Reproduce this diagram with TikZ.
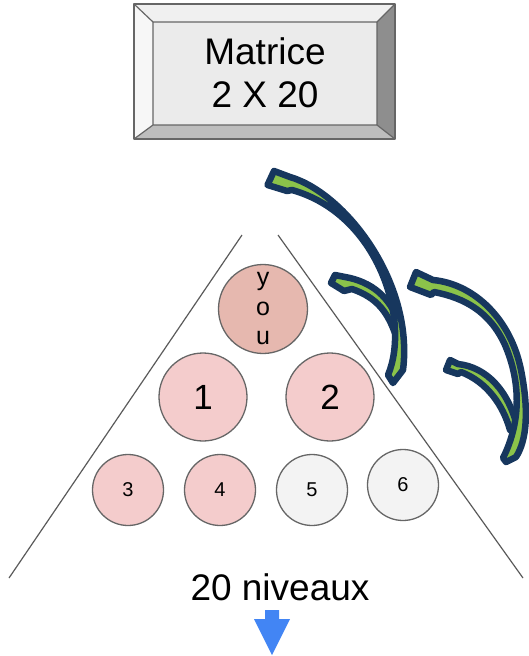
\documentclass[tikz,border=0pt]{standalone}
\usepackage{fontspec}
\setmainfont{Liberation Sans}
\definecolor{navy}{HTML}{17375E}
\definecolor{limeg}{HTML}{8BC34A}
\definecolor{youfill}{HTML}{E6B8AF}
\definecolor{pinkfill}{HTML}{F4CCCC}
\definecolor{greyfill}{HTML}{F3F3F3}
\definecolor{cgray}{HTML}{666666}
\definecolor{lgray}{HTML}{5A5A5A}
\definecolor{bluearrow}{HTML}{4285F4}
\definecolor{bevtop}{HTML}{F0F0F0}
\definecolor{bevleft}{HTML}{F7F7F7}
\definecolor{bevright}{HTML}{8E8E8E}
\definecolor{bevbot}{HTML}{BDBDBD}
\definecolor{bevmid}{HTML}{EBEBEB}
\tikzset{
  circ/.style={circle, draw=cgray, line width=1.3pt, inner sep=0pt},
  bigc/.style={circ, fill=pinkfill, minimum size=88pt, font=\fontsize{35}{40}\selectfont},
  smallc/.style={circ, minimum size=71pt, font=\fontsize{20}{24}\selectfont},
  curv/.style={fill=limeg, draw=navy, line width=6.5pt, line join=round},
  side/.style={draw=lgray, line width=1.2pt},
}
\begin{document}
\begin{tikzpicture}[x=1pt,y=-1pt]
\useasboundingbox (0,0) rectangle (529,656);
% bevel box
\coordinate (o1) at (134,4); \coordinate (o2) at (395,4);
\coordinate (o3) at (395,139); \coordinate (o4) at (134,139);
\coordinate (i1) at (153,22); \coordinate (i2) at (377,22);
\coordinate (i3) at (377,125); \coordinate (i4) at (153,125);
\fill[bevtop] (o1) -- (o2) -- (i2) -- (i1) -- cycle;
\fill[bevleft] (o1) -- (i1) -- (i4) -- (o4) -- cycle;
\fill[bevright] (o2) -- (o3) -- (i3) -- (i2) -- cycle;
\fill[bevbot] (o4) -- (o3) -- (i3) -- (i4) -- cycle;
\fill[bevmid] (i1) rectangle (i3);
\draw[cgray, line width=1.5pt, line join=round] (o1) rectangle (o3);
\draw[cgray, line width=1.2pt] (i1) rectangle (i3) (o1) -- (i1) (o2) -- (i2) (o3) -- (i3) (o4) -- (i4);
\node[font=\fontsize{37}{43}\selectfont, align=center, inner sep=0pt] (mat) at (265,73) {Matrice\\2 X 20};
% triangle sides
\coordinate (lt) at (242,235); \coordinate (lb) at (9,578);
\coordinate (rt) at (278,235); \coordinate (rb) at (523,578);
\draw[side] (lt) -- (lb);
\draw[side] (rt) -- (rb);
% circles
\node[circ, fill=youfill, minimum size=89pt, font=\fontsize{25}{29.5}\selectfont, align=center] (you) at (263,309) {y\\o\\u};
\node[bigc] (n1) at (203,397) {1};
\node[bigc] (n2) at (330,397) {2};
\node[smallc, fill=pinkfill] (n3) at (128,490) {3};
\node[smallc, fill=pinkfill] (n4) at (220,490) {4};
\node[smallc, fill=greyfill] (n5) at (312,490) {5};
\node[smallc, fill=greyfill] (n6) at (403,485) {6};
% curved arrows (left pair)
\draw[curv] (396,336) .. controls (388,313) and (378,298) .. (352,289) -- (344,291) -- (331,283) -- (335,275) -- (350,278) .. controls (375,284) and (393,300) .. (401,330) -- cycle;
\draw[curv] (388,375) .. controls (411,320) and (378,214) .. (292,190) -- (287,191) -- (267.5,185) -- (274,171) -- (290,177) .. controls (345,193) and (414,282) .. (403,370) -- (393,383) -- cycle;
% curved arrows (right pair)
\draw[curv] (510,430) .. controls (503,405) and (487,382) .. (461,372) -- (458,374) -- (446,370) -- (450,360) -- (458,364) .. controls (486,367) and (509,390) .. (518,430) -- cycle;
\draw[curv] (503,458) .. controls (522,420) and (520,380) .. (505,345) .. controls (490,312) and (465,298) .. (434,292) -- (431,295) -- (410,287) -- (416,272) -- (433,280) .. controls (475,284) and (511,320) .. (521,370) .. controls (529,410) and (527,440) .. (516,457) -- (506,462) -- cycle;
% bottom label and arrow
\node[font=\fontsize{37}{43}\selectfont, inner sep=0pt] (niv) at (280,587) {20 niveaux};
\fill[bluearrow] (265,610) -- (279,610) -- (279,619) -- (290,619) -- (272,655) -- (254,619) -- (265,619) -- cycle;
\end{tikzpicture}
\end{document}
